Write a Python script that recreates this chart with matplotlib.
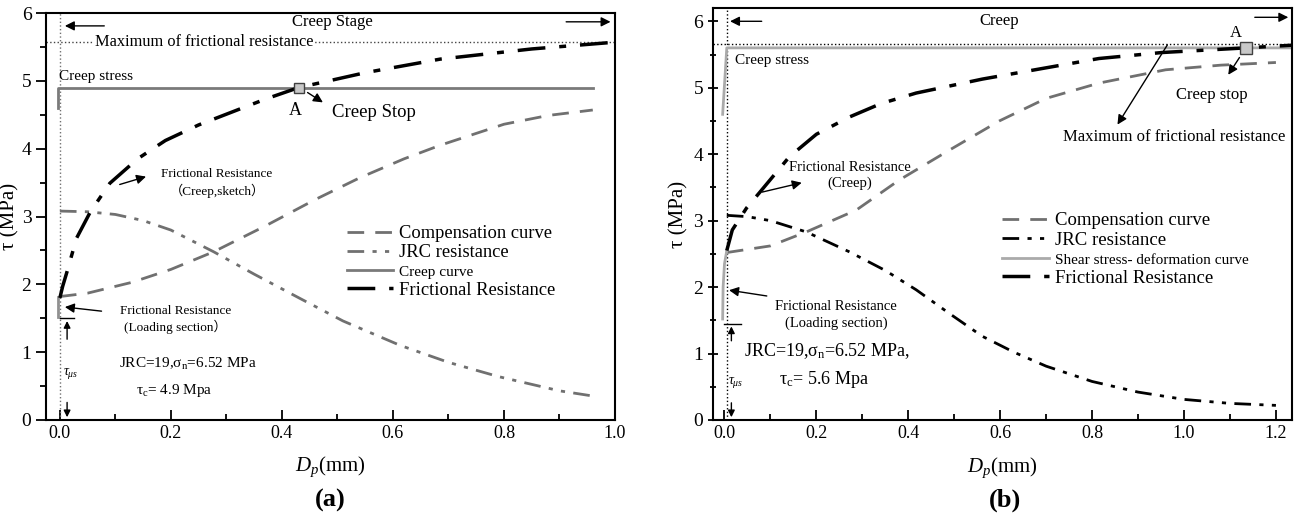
import matplotlib
matplotlib.use("Agg")
import matplotlib.pyplot as plt

plt.rcParams['font.family'] = ['Liberation Serif', 'Noto Sans CJK SC']
plt.rcParams['mathtext.fontset'] = 'custom'
plt.rcParams['mathtext.rm'] = 'Liberation Serif'
plt.rcParams['mathtext.it'] = 'Liberation Serif:italic'
plt.rcParams['axes.linewidth'] = 1.5

# ---- panel (a) data ----
fr_x_a = [0, 0.005, 0.013, 0.03, 0.055, 0.09, 0.14, 0.19, 0.25, 0.31, 0.37, 0.43, 0.55, 0.685, 0.85, 1.0]
fr_y_a = [1.8, 1.97, 2.19, 2.68, 3.07, 3.49, 3.85, 4.12, 4.35, 4.54, 4.73, 4.9, 5.12, 5.32, 5.47, 5.57]
comp_x_a = [0, 0.05, 0.13, 0.2, 0.277, 0.37, 0.46, 0.54, 0.62, 0.685, 0.8, 0.88, 0.96]
comp_y_a = [1.82, 1.87, 2.03, 2.22, 2.48, 2.86, 3.25, 3.57, 3.85, 4.05, 4.36, 4.49, 4.57]
jrc_x_a = [0, 0.05, 0.1, 0.15, 0.2, 0.277, 0.35, 0.433, 0.51, 0.613, 0.7, 0.79, 0.9, 0.955]
jrc_y_a = [3.08, 3.07, 3.03, 2.94, 2.8, 2.48, 2.15, 1.79, 1.46, 1.1, 0.85, 0.64, 0.43, 0.36]
creep_x_a = [-0.004, -0.004, 0.96]
creep_y_a = [4.6, 4.9, 4.9]
load_x_a = [-0.004, -0.004]
load_y_a = [1.52, 1.82]
max_fr_a = 5.57
point_a = (0.43, 4.9)

# ---- panel (b) data ----
fr_x_b = [0.005, 0.017, 0.048, 0.076, 0.141, 0.2, 0.272, 0.34, 0.417, 0.561, 0.70, 0.815, 0.952, 1.135, 1.235]
fr_y_b = [2.55, 2.86, 3.19, 3.42, 3.96, 4.3, 4.56, 4.76, 4.92, 5.13, 5.3, 5.44, 5.53, 5.6, 5.64]
comp_x_b = [0.005, 0.1, 0.178, 0.287, 0.38, 0.489, 0.598, 0.70, 0.815, 0.96, 1.08, 1.2]
comp_y_b = [2.52, 2.62, 2.83, 3.16, 3.61, 4.06, 4.5, 4.84, 5.07, 5.27, 5.34, 5.38]
jrc_x_b = [0.005, 0.05, 0.1, 0.178, 0.272, 0.35, 0.417, 0.49, 0.561, 0.63, 0.70, 0.8, 0.9, 1.0, 1.1, 1.2]
jrc_y_b = [3.08, 3.06, 3.0, 2.83, 2.53, 2.25, 1.96, 1.6, 1.26, 1.02, 0.81, 0.58, 0.42, 0.31, 0.25, 0.22]
creep_x_b = [-0.004, 0.005, 1.235]
creep_y_b = [4.6, 5.6, 5.6]
load_x_b = [-0.004, -0.003, 0.0, 0.005]
load_y_b = [1.52, 2.0, 2.35, 2.55]
max_fr_b = 5.66
point_b = (1.135, 5.6)

DASH = (0, (6, 4))
DDOT = (0, (6, 3, 1.5, 3, 1.5, 3))
DDASH = (0, (8, 4, 2, 4))

fig = plt.figure(figsize=(13.02, 5.23), dpi=100)
ax1 = fig.add_axes([46 / 1302, 103 / 523, 569 / 1302, 407 / 523])
ax2 = fig.add_axes([713 / 1302, 103 / 523, 579 / 1302, 412 / 523])


def style_axes(ax, xmax, ymax, ydir):
    ax.set_xlim(-0.025, xmax)
    ax.set_ylim(0, ymax)
    ax.set_xticks([0, 0.2, 0.4, 0.6, 0.8, 1.0] + ([1.2] if xmax > 1.1 else []))
    ax.set_xticks([0.1 * i + 0.1 for i in range(0, 12, 2) if 0.1 * i + 0.1 < xmax], minor=True)
    ax.set_yticks(range(7))
    ax.set_yticks([0.5, 1.5, 2.5, 3.5, 4.5, 5.5], minor=True)
    ax.tick_params(axis='x', which='major', direction='in', length=7, width=1.3, labelsize=13)
    ax.tick_params(axis='x', which='minor', direction='in', length=4, width=1.3)
    ax.tick_params(axis='y', which='major', direction=ydir, length=7, width=1.3, labelsize=14)
    ax.tick_params(axis='y', which='minor', direction=ydir, length=4, width=1.3)
    ax.set_xlabel('$D_p$(mm)', fontsize=15)
    ax.set_ylabel('τ (MPa)', fontsize=15)
    ax.xaxis.set_label_coords(0.5, -0.085)


style_axes(ax1, 1.0, 6, 'out')
style_axes(ax2, 1.235, 6.2, 'inout')
ax1.xaxis.set_major_formatter(plt.FormatStrFormatter('%.1f'))
ax2.xaxis.set_major_formatter(plt.FormatStrFormatter('%.1f'))
ax1.yaxis.set_label_coords(-0.047, 0.5)
ax2.yaxis.set_label_coords(-0.042, 0.5)

arrow = dict(arrowstyle='-|>', color='black', lw=1, mutation_scale=14)
small_arrow = dict(arrowstyle='-|>', color='black', lw=1, mutation_scale=10)

# ---------------- panel (a) ----------------
ax1.axvline(0.0005, color='#707070', ls=':', lw=1)
ax1.axhline(max_fr_a, color='#444444', ls=':', lw=1)
ax1.plot(comp_x_a, comp_y_a, color='#707070', ls=DASH, lw=2, label='Compensation curve')
ax1.plot(jrc_x_a, jrc_y_a, color='#707070', ls=DDOT, lw=2, label='JRC resistance')
ax1.plot(creep_x_a, creep_y_a, color='#7a7a7a', lw=2, label='Creep curve')
ax1.plot(load_x_a, load_y_a, color='#909090', lw=2)
ax1.plot(fr_x_a, fr_y_a, color='black', ls=DDASH, lw=2.5, label='Frictional Resistance')
ax1.plot(*point_a, marker='s', ms=7, mfc='#c8c8c8', mec='#404040', mew=1)

leg = ax1.legend(loc='upper left', bbox_to_anchor=(0.5, 0.52), frameon=False,
                 handlelength=2.5, handletextpad=0.3, labelspacing=0.12, fontsize=13.3)
leg.get_texts()[2].set_fontsize(11)

ax1.text(0.26, max_fr_a, 'Maximum of frictional resistance', fontsize=11.8, ha='center', va='center',
         bbox=dict(facecolor='white', edgecolor='none', pad=0.5))
ax1.text(0.49, 5.86, 'Creep Stage', fontsize=12, ha='center', va='center')
ax1.annotate('', xy=(0.004, 5.81), xytext=(0.085, 5.81), arrowprops=arrow)
ax1.annotate('', xy=(0.997, 5.87), xytext=(0.907, 5.87), arrowprops=arrow)
ax1.text(-0.002, 5.06, 'Creep stress', fontsize=11, ha='left', va='center')
ax1.text(0.425, 4.57, 'A', fontsize=13, ha='center', va='center')
ax1.annotate('', xy=(0.478, 4.66), xytext=(0.442, 4.85), arrowprops=arrow)
ax1.text(0.49, 4.53, 'Creep Stop', fontsize=13.5, ha='left', va='center')
ax1.annotate('', xy=(0.16, 3.6), xytext=(0.103, 3.46), arrowprops=arrow)
ax1.text(0.283, 3.49, 'Frictional Resistance\n（Creep,sketch）', fontsize=9.5, ha='center', va='center',
         linespacing=1.3)
ax1.annotate('', xy=(0.004, 1.67), xytext=(0.08, 1.6), arrowprops=arrow)
ax1.text(0.208, 1.48, 'Frictional Resistance\n(Loading section）', fontsize=9.5, ha='center', va='center',
         linespacing=1.3)
ax1.plot([0.0, 0.025], [1.5, 1.5], color='black', lw=1)
ax1.annotate('', xy=(0.013, 1.5), xytext=(0.013, 1.15), arrowprops=small_arrow)
ax1.annotate('', xy=(0.013, 0.0), xytext=(0.013, 0.3), arrowprops=small_arrow)
ax1.text(0.006, 0.69, r'$\tau_{\mu s}$', fontsize=10, ha='left', va='center')
ax1.text(0.23, 0.82, 'JRC=19,σ$_\\mathregular{n}$=6.52 MPa', fontsize=11, ha='center', va='center')
ax1.text(0.205, 0.44, 'τ$_\\mathregular{c}$= 4.9 Mpa', fontsize=11, ha='center', va='center')

# ---------------- panel (b) ----------------
ax2.axvline(0.006, color='black', ls=':', lw=1)
ax2.axhline(max_fr_b, color='black', ls=':', lw=1)
ax2.plot(comp_x_b, comp_y_b, color='#707070', ls=DASH, lw=2, label='Compensation curve')
ax2.plot(jrc_x_b, jrc_y_b, color='black', ls=DDOT, lw=2, label='JRC resistance')
ax2.plot(creep_x_b, creep_y_b, color='#aaaaaa', lw=2, label='Shear stress- deformation curve')
ax2.plot(load_x_b, load_y_b, color='#aaaaaa', lw=2)
ax2.plot(fr_x_b, fr_y_b, color='black', ls=DDASH, lw=2.5, label='Frictional Resistance')
ax2.plot(*point_b, marker='s', ms=8, mfc='#c8c8c8', mec='#404040', mew=1)

leg2 = ax2.legend(loc='upper left', bbox_to_anchor=(0.47, 0.545), frameon=False,
                  handlelength=2.5, handletextpad=0.3, labelspacing=0.12, fontsize=13.5)
leg2.get_texts()[2].set_fontsize(11)

ax2.text(0.598, 6.01, 'Creep', fontsize=12, ha='center', va='center')
ax2.annotate('', xy=(0.006, 6.0), xytext=(0.087, 6.0), arrowprops=arrow)
ax2.annotate('', xy=(1.233, 6.06), xytext=(1.148, 6.06), arrowprops=arrow)
ax2.text(0.022, 5.41, 'Creep stress', fontsize=11, ha='left', va='center')
ax2.text(1.113, 5.83, 'A', fontsize=12, ha='center', va='center')
ax2.annotate('', xy=(1.093, 5.16), xytext=(1.124, 5.49), arrowprops=arrow)
ax2.text(1.06, 4.89, 'Creep stop', fontsize=12, ha='center', va='center')
ax2.annotate('', xy=(0.852, 4.41), xytext=(0.967, 5.68), arrowprops=arrow)
ax2.text(0.978, 4.26, 'Maximum of frictional resistance', fontsize=12, ha='center', va='center')
ax2.annotate('', xy=(0.174, 3.58), xytext=(0.076, 3.42), arrowprops=arrow)
ax2.text(0.272, 3.68, 'Frictional Resistance\n(Creep)', fontsize=10.5, ha='center', va='center',
         linespacing=1.3)
ax2.annotate('', xy=(0.004, 1.96), xytext=(0.098, 1.86), arrowprops=arrow)
ax2.text(0.243, 1.58, 'Frictional Resistance\n(Loading section)', fontsize=10.5, ha='center', va='center',
         linespacing=1.3)
ax2.plot([0.0, 0.035], [1.45, 1.45], color='black', lw=1)
ax2.annotate('', xy=(0.015, 1.45), xytext=(0.015, 1.15), arrowprops=small_arrow)
ax2.annotate('', xy=(0.015, 0.0), xytext=(0.015, 0.3), arrowprops=small_arrow)
ax2.text(0.008, 0.57, r'$\tau_{\mu s}$', fontsize=10, ha='left', va='center')
ax2.text(0.222, 1.03, 'JRC=19,σ$_\\mathregular{n}$=6.52 MPa,', fontsize=13, ha='center', va='center')
ax2.text(0.217, 0.61, 'τ$_\\mathregular{c}$= 5.6 Mpa', fontsize=13, ha='center', va='center')

fig.text(330 / 1302, 1 - 500 / 523, '(a)', fontsize=19, fontweight='bold', ha='center', va='center')
fig.text(1005 / 1302, 1 - 500 / 523, '(b)', fontsize=19, fontweight='bold', ha='center', va='center')

fig.savefig('out.png', dpi=100)
